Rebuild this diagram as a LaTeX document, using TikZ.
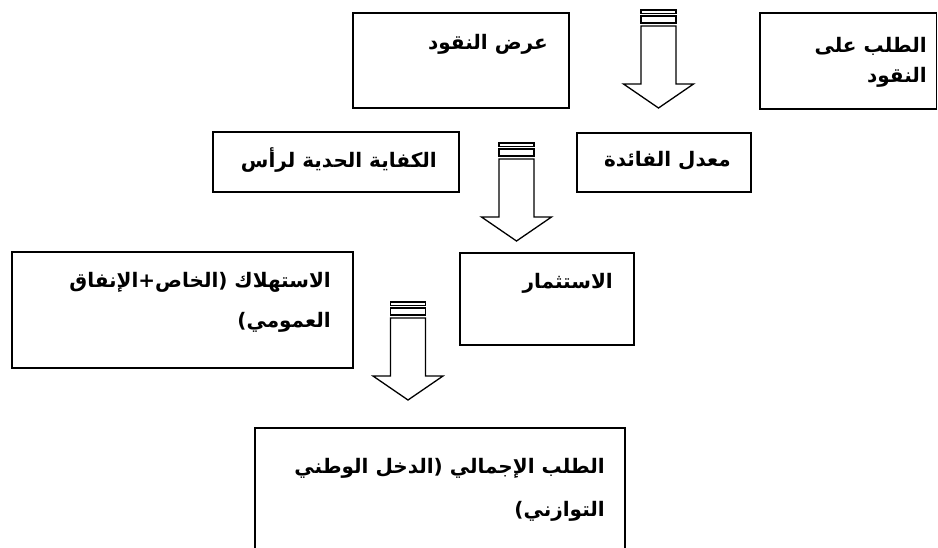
\documentclass[tikz,border=0pt]{standalone}
\usepackage{fontspec}
\usetikzlibrary{fit}
\newfontfamily\arabicfont[Script=Arabic]{DejaVu Sans}
\TeXXeTstate=1

% striped block arrow pointing down: centre x, top y
\newcommand\stripedarrowdown[3]{%
  \begin{scope}[shift={(#1,#2)}]
    \draw[arrowline] (-17.5,0) rectangle (17.5,3.5);
    \draw[arrowline] (-17.5,6) rectangle (17.5,13);
    \draw[arrowline] (-17.5,16) -- (-17.5,74) -- (-35,74) -- (0,98)
      -- (35,74) -- (17.5,74) -- (17.5,16) -- cycle;
    \coordinate (#3) at (0,98);
  \end{scope}}

\begin{document}
\begin{tikzpicture}[x=1pt,y=-1pt,
  box/.style={draw, line width=1.6pt, inner sep=0pt},
  arrowline/.style={draw, line width=1.3pt, fill=white, line join=miter},
  lbl/.style={anchor=east, inner sep=0pt,
    font=\arabicfont\bfseries\fontsize{20}{24}\selectfont}]
\useasboundingbox (0,0) rectangle (938,547);

% boxes
\node[box, fit={(760,13) (936.5,109)}] (demand) {};
\node[box, fit={(353,13) (569,108)}] (supply) {};
\node[box, fit={(213,132) (459,192)}] (mec) {};
\node[box, fit={(577,133) (751,192)}] (rate) {};
\node[box, fit={(12,252) (353,368)}] (cons) {};
\node[box, fit={(460,253) (634,345)}] (inv) {};
\node[box, fit={(255,428) (625,570)}] (agg) {};

% labels
\node[lbl] (demand1) at (927,46) {\beginR الطلب على\endR};
\node[lbl] (demand2) at (927,77) {\beginR النقود\endR};
\node[lbl] (supplyt) at (548,44) {\beginR عرض النقود\endR};
\node[lbl] (mect) at (437,160) {\beginR الكفاية الحدية لرأس\endR};
\node[lbl] (ratet) at (731,161) {\beginR معدل الفائدة\endR};
\node[lbl] (cons1) at (331,282) {\beginR الاستهلاك (الخاص+الإنفاق\endR};
\node[lbl] (cons2) at (331,322) {\beginR العمومي)\endR};
\node[lbl] (invt) at (613,283) {\beginR الاستثمار\endR};
\node[lbl] (agg1) at (605,468) {\beginR الطلب الإجمالي (الدخل الوطني\endR};
\node[lbl] (agg2) at (605,511) {\beginR التوازني)\endR};

% block arrows
\stripedarrowdown{658.5}{10}{tipA}
\stripedarrowdown{516.5}{143}{tipB}
\stripedarrowdown{408}{302}{tipC}
\end{tikzpicture}
\end{document}
